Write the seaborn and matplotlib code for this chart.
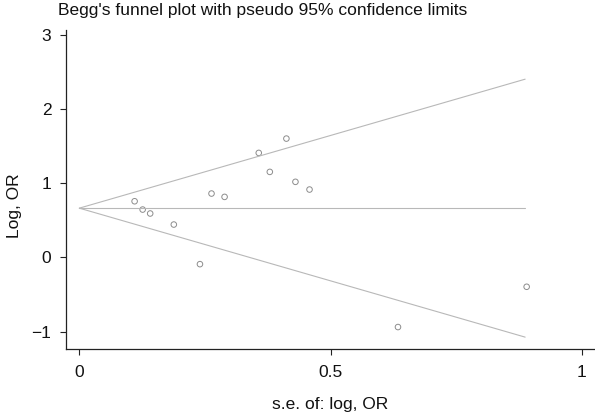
import matplotlib
matplotlib.use('Agg')
import matplotlib.pyplot as plt
import seaborn as sns
import pandas as pd

# study estimates
se = [0.110, 0.126, 0.141, 0.188, 0.240, 0.263, 0.289, 0.357, 0.379, 0.412, 0.430, 0.458, 0.634, 0.890]
log_or = [0.758, 0.646, 0.593, 0.444, -0.090, 0.862, 0.817, 1.410, 1.154, 1.603, 1.020, 0.916, -0.938, -0.395]

# funnel (pooled estimate and pseudo 95% limits) end points
funnel_se = [0.0, 0.887]
pooled = [0.665, 0.665]
upper = [0.665, 2.404]
lower = [0.665, -1.074]

x_ticks = [0, 0.5, 1]
x_labels = ['0', '0.5', '1']
y_ticks = [-1, 0, 1, 2, 3]
y_labels = ['\u22121', '0', '1', '2', '3']

sns.set_theme(style='ticks')
plt.rcParams['font.family'] = ['Liberation Sans', 'DejaVu Sans']
fs = 12.5

df = pd.DataFrame({'se': se, 'log_or': log_or})
lines = pd.DataFrame({'se': funnel_se * 3,
                      'val': pooled + upper + lower,
                      'line': ['pooled'] * 2 + ['upper'] * 2 + ['lower'] * 2})

fig = plt.figure(figsize=(5.95, 4.16), dpi=100)
ax = fig.add_axes([66 / 595, 1 - 349 / 416, (594 - 66) / 595, (349 - 30) / 416])

sns.lineplot(data=lines, x='se', y='val', units='line', estimator=None,
             color='#b8b8b8', linewidth=0.8, ax=ax, legend=False)
sns.scatterplot(data=df, x='se', y='log_or', ax=ax, s=16, marker='o',
                facecolor='none', edgecolor='#8c8c8c', linewidth=0.7, legend=False)

ax.set_xlim(-0.0265, 1.024)
ax.set_ylim(-1.234, 3.067)
ax.set_xticks(x_ticks)
ax.set_xticklabels(x_labels)
ax.set_yticks(y_ticks)
ax.set_yticklabels(y_labels)
ax.tick_params(axis='both', direction='out', length=4.5, width=0.8, color='#222222',
               labelsize=fs, labelcolor='#111111')
ax.tick_params(axis='x', pad=7)
ax.tick_params(axis='y', pad=6)
for side in ['top', 'right']:
    ax.spines[side].set_visible(False)
for side in ['left', 'bottom']:
    ax.spines[side].set_linewidth(0.9)
    ax.spines[side].set_color('#222222')

ax.set_xlabel('s.e. of: log, OR', fontsize=fs, color='#111111')
ax.xaxis.set_label_coords(0.5, -(405 - 349) / (349 - 30), transform=ax.transAxes)
ax.set_ylabel('Log, OR', fontsize=fs, color='#111111')
ax.yaxis.set_label_coords(-(66 - 15) / (594 - 66), (349 - 206) / (349 - 30))
for lbl in [ax.xaxis.label, ax.yaxis.label]:
    lbl.set_va('center')

fig.text(58 / 595, 1 - 11 / 416, "Begg's funnel plot with pseudo 95% confidence limits",
         fontsize=fs, color='#111111', ha='left', va='center')

plt.savefig('out.png', dpi=100)
plt.close()
